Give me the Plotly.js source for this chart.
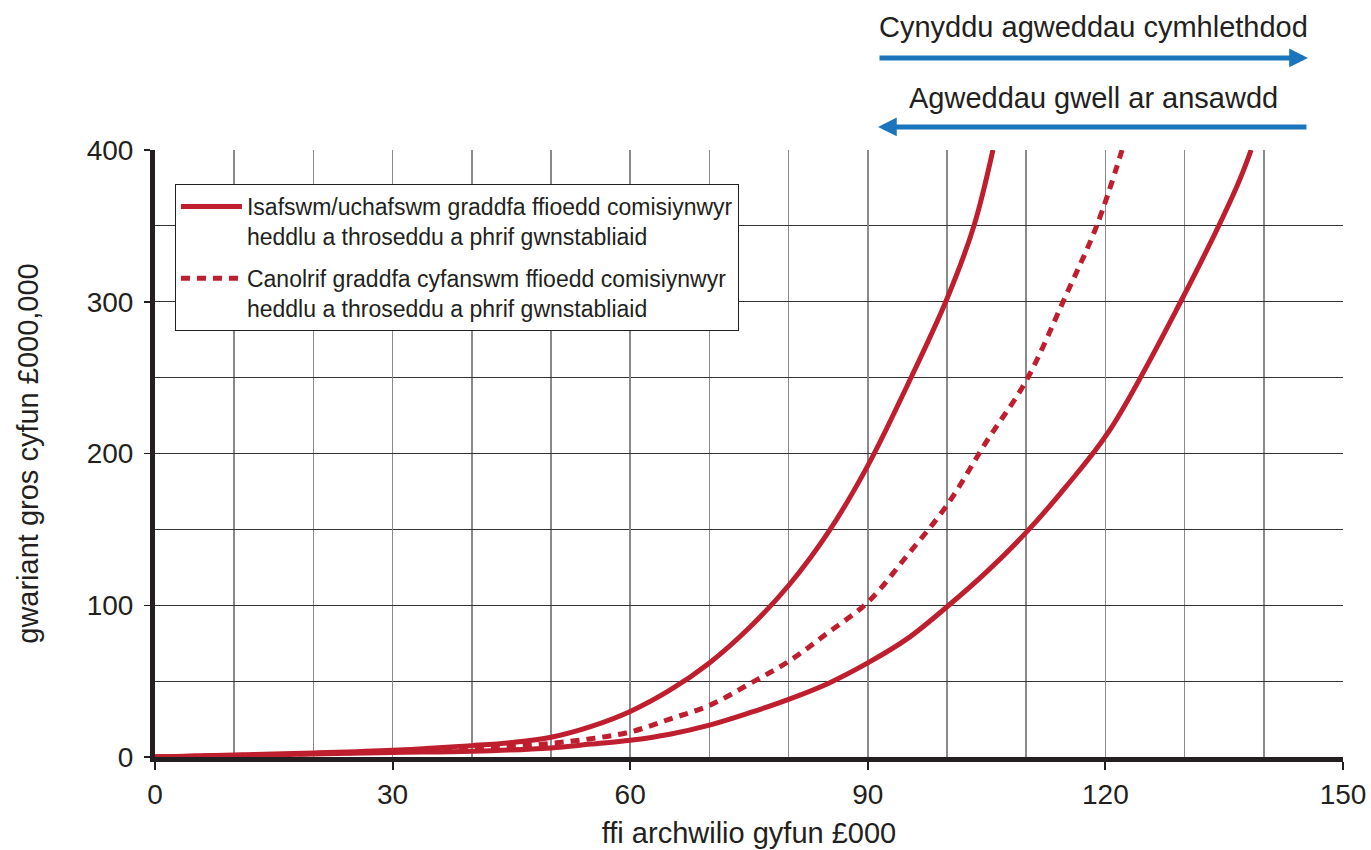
<!DOCTYPE html>
<html>
<head>
<meta charset="utf-8">
<script src="https://cdn.plot.ly/plotly-3.0.1.min.js"></script>
<style>html,body{margin:0;padding:0;background:#fff;}#chart{width:1371px;height:850px;}</style>
</head>
<body>
<div id="chart"></div>
<script>
// Upper bound (solid)
const upperX = [0, 10, 20, 30, 40, 45, 50, 55, 60, 65, 70, 75, 80, 85, 90, 95, 100, 103.4, 105.8];
const upperY = [0, 1.3, 2.7, 4.5, 7.5, 9.5, 13, 20, 30, 44, 62, 85, 113, 148, 192, 245, 302, 350, 400];
// Lower bound (solid)
const lowerX = [0, 10, 20, 30, 40, 50, 55, 60, 65, 70, 75, 80, 85, 90, 95, 100, 105, 110, 115, 120.5, 129.5, 136.6, 138.4];
const lowerY = [0, 1, 2, 3, 3.8, 6, 8.5, 11, 15, 21, 29, 38, 48.5, 62, 78, 99, 122, 148, 178, 215, 300, 376, 400];
// Median (dashed)
const medX = [0, 10, 20, 30, 40, 45, 50, 55, 60, 65, 70, 75, 80, 85, 90, 95, 100, 105, 110, 115, 118.9, 122.1];
const medY = [0, 1, 2.2, 3.8, 5.5, 7, 9, 12, 16.5, 25, 34, 48, 63, 82, 102, 133, 166, 208, 248, 304, 350, 400];

const legendSolid = 'Isafswm/uchafswm graddfa ffioedd comisiynwyr<br>heddlu a throseddu a phrif gwnstabliaid';
const legendDashed = 'Canolrif graddfa cyfanswm ffioedd comisiynwyr<br>heddlu a throseddu a phrif gwnstabliaid';
const xTitle = 'ffi archwilio gyfun £000';
const yTitle = 'gwariant gros cyfun £000,000';
const arrowTextRight = 'Cynyddu agweddau cymhlethdod';
const arrowTextLeft = 'Agweddau gwell ar ansawdd';

const red = '#be1e2d';
const blue = '#1a75bc';
const ink = '#231f20';
const font = 'Liberation Sans, Arial, sans-serif';

const traces = [
  {x: upperX, y: upperY, mode: 'lines', name: legendSolid, legendgroup: 'a',
   line: {color: red, width: 5, shape: 'spline', smoothing: 1}},
  {x: lowerX, y: lowerY, mode: 'lines', name: legendSolid, legendgroup: 'a', showlegend: false,
   line: {color: red, width: 5, shape: 'spline', smoothing: 1}},
  {x: medX, y: medY, mode: 'lines', name: legendDashed, legendgroup: 'b',
   line: {color: red, width: 5, dash: '9px,7px', shape: 'spline', smoothing: 1}}
];

const layout = {
  width: 1371, height: 850,
  margin: {l: 155, r: 28, t: 150, b: 93},
  paper_bgcolor: '#ffffff', plot_bgcolor: '#ffffff',
  font: {family: font, color: ink},
  showlegend: true,
  legend: {x: 0.0168, y: 0.944, xanchor: 'left', yanchor: 'top',
    bordercolor: ink, borderwidth: 1, bgcolor: '#ffffff',
    font: {size: 23, family: font, color: ink}, valign: 'top',
    traceorder: 'grouped', tracegroupgap: 9, itemwidth: 61},
  xaxis: {range: [0, 150], dtick: 30, tick0: 0, showgrid: true, gridcolor: '#8a8a8a', gridwidth: 1.5,
    minor: {dtick: 10, showgrid: true, gridcolor: '#8a8a8a', gridwidth: 1.5},
    showline: true, linecolor: ink, linewidth: 5, zeroline: false,
    ticks: 'outside', ticklen: 8, tickwidth: 2, tickcolor: ink,
    tickfont: {size: 28, family: font, color: ink},
    title: {text: xTitle, font: {size: 29, family: font, color: ink}, standoff: 16},
    fixedrange: true},
  yaxis: {range: [0, 400], dtick: 100, tick0: 0, showgrid: true, gridcolor: '#333333', gridwidth: 1.2,
    minor: {dtick: 50, showgrid: true, gridcolor: '#333333', gridwidth: 1.2},
    showline: true, linecolor: ink, linewidth: 5, zeroline: false,
    ticks: 'outside', ticklen: 6, tickwidth: 1.5, tickcolor: ink, ticklabelstandoff: 5,
    tickfont: {size: 28, family: font, color: ink},
    title: {text: yTitle, font: {size: 29, family: font, color: ink}, standoff: 41},
    fixedrange: true},
  annotations: [
    {xref: 'paper', yref: 'paper', x: 0.9705, y: 1.1516, ax: 0.6086, ay: 1.1516,
     axref: 'paper', ayref: 'paper', showarrow: true, arrowhead: 2, arrowsize: 0.75,
     arrowwidth: 5, arrowcolor: blue, text: ''},
    {xref: 'paper', yref: 'paper', x: 0.6086, y: 1.0379, ax: 0.9705, ay: 1.0379,
     axref: 'paper', ayref: 'paper', showarrow: true, arrowhead: 2, arrowsize: 0.75,
     arrowwidth: 5, arrowcolor: blue, text: ''},
    {xref: 'paper', yref: 'paper', x: 0.7896, y: 1.2027, xanchor: 'center', yanchor: 'middle',
     showarrow: false, text: arrowTextRight, font: {size: 29, family: font, color: ink}},
    {xref: 'paper', yref: 'paper', x: 0.7896, y: 1.0857, xanchor: 'center', yanchor: 'middle',
     showarrow: false, text: arrowTextLeft, font: {size: 29, family: font, color: ink}}
  ]
};

Plotly.newPlot('chart', traces, layout, {displayModeBar: false, staticPlot: true});
</script>
</body>
</html>
